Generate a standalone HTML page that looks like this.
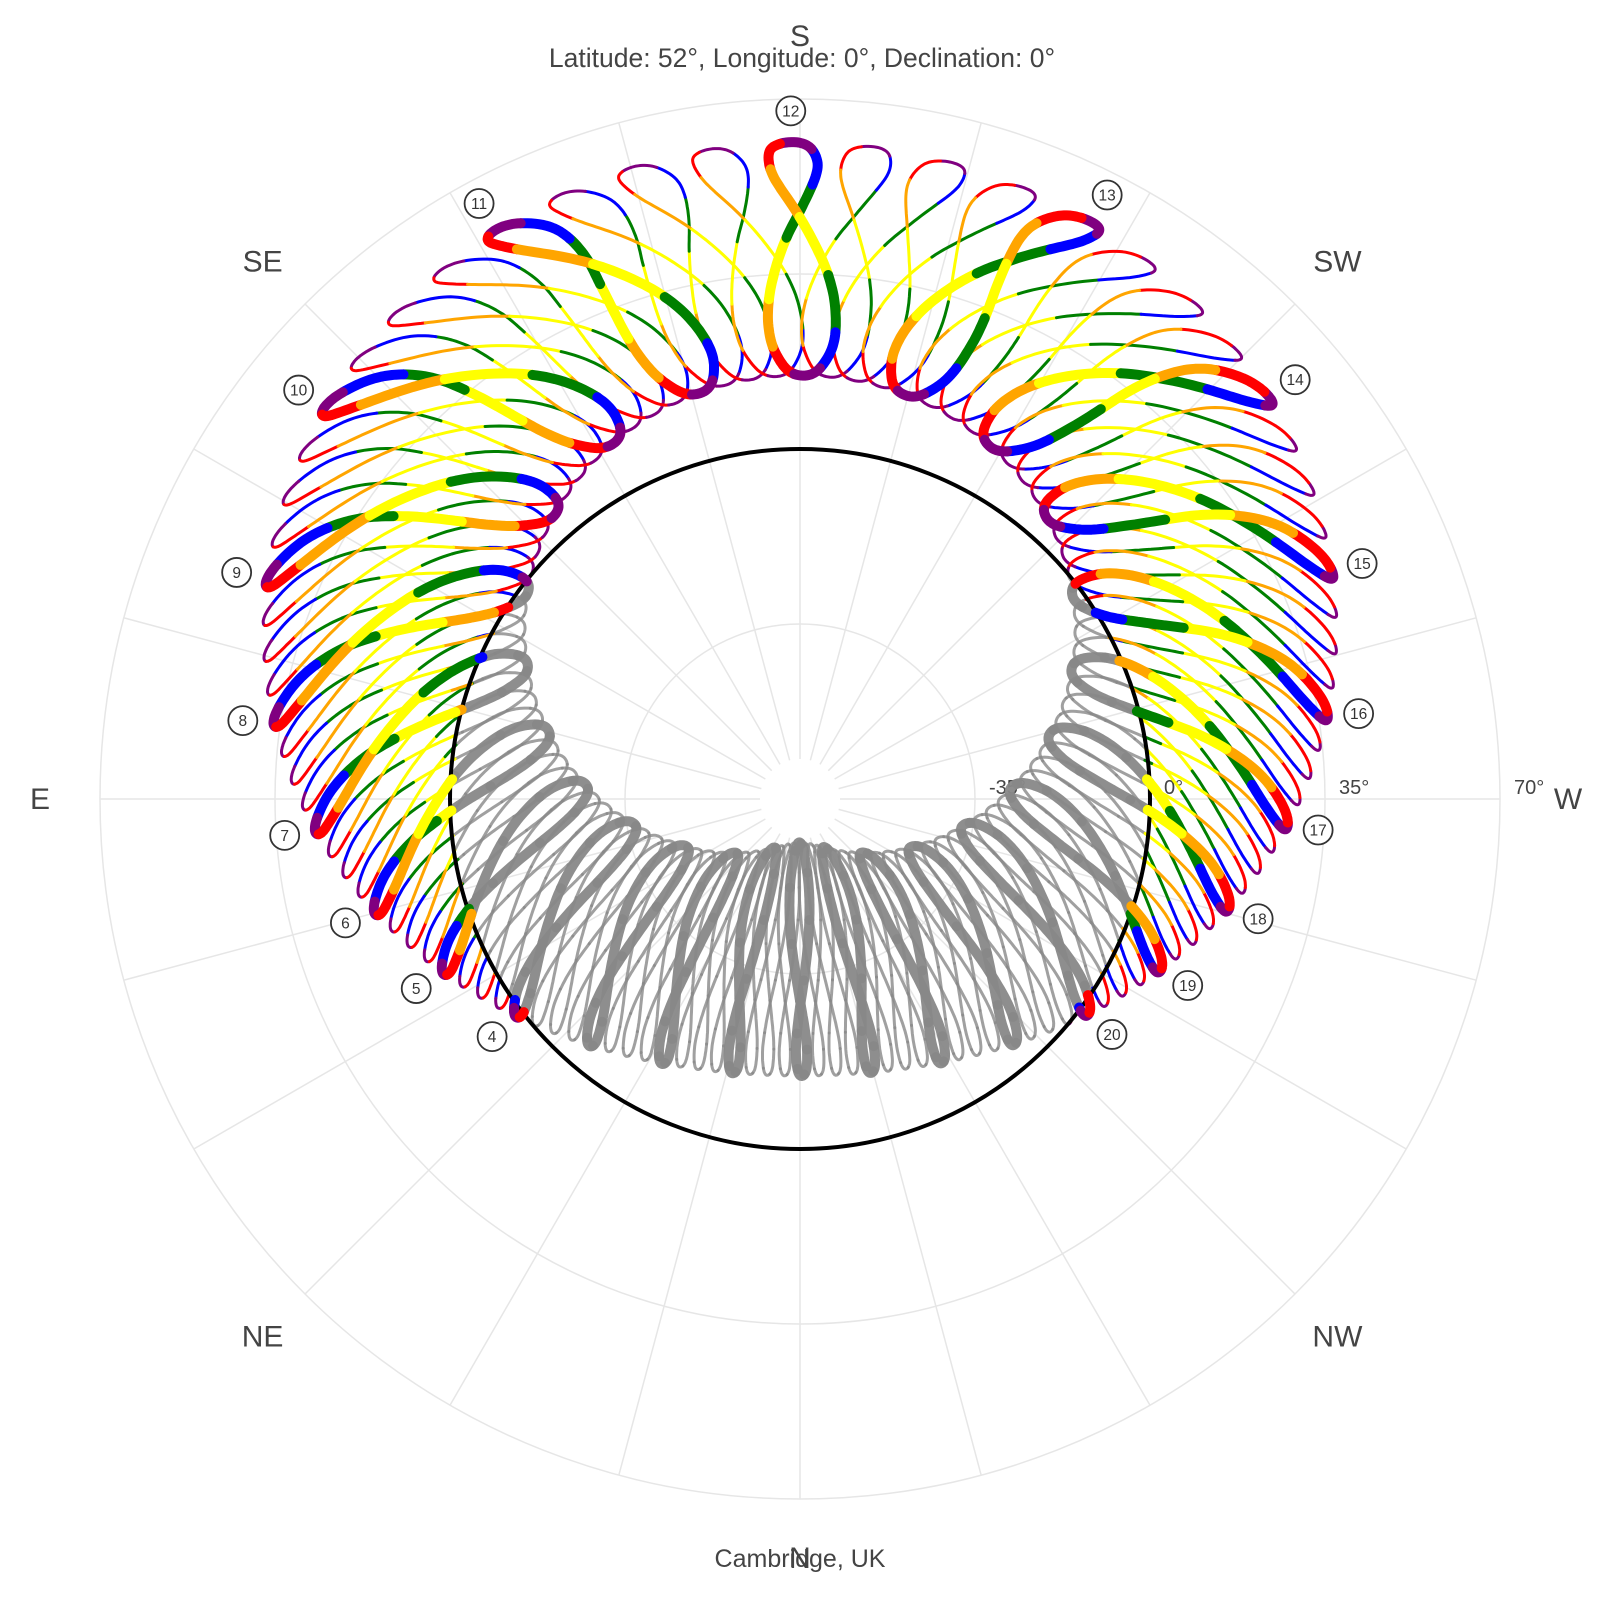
<!DOCTYPE html>
<html><head><meta charset="utf-8">
<style>
html,body{margin:0;padding:0;background:#fff;}
svg{display:block;font-family:"Liberation Sans",Arial,sans-serif;}
</style></head>
<body>
<svg id="chart" width="1600" height="1600" viewBox="0 0 1600 1600" xmlns="http://www.w3.org/2000/svg">
<g id="grid"></g>
<g id="loops"></g>
<g id="labels"></g>
<text x="802" y="67" font-size="26.5" fill="#444" text-anchor="middle">Latitude: 52°, Longitude: 0°, Declination: 0°</text>
<text x="800" y="1567" font-size="25" fill="#444" text-anchor="middle">Cambridge, UK</text>
</svg>
<script>
// ---- data: solar declination (deg) and equation of time (min) on the 1st and 15th of each month
const sampleDates = ['Jan 1','Jan 15','Feb 1','Feb 15','Mar 1','Mar 15','Apr 1','Apr 15','May 1','May 15','Jun 1','Jun 15','Jul 1','Jul 15','Aug 1','Aug 15','Sep 1','Sep 15','Oct 1','Oct 15','Nov 1','Nov 15','Dec 1','Dec 15'];
const declination = [-23.0,-21.2,-17.3,-12.7,-7.8,-2.4,4.3,9.6,14.9,18.8,22.0,23.3,23.1,21.6,18.1,14.2,8.4,3.0,-3.0,-8.5,-14.3,-18.3,-21.7,-23.2];
const equationOfTime = [-3.2,-9.1,-13.5,-14.2,-12.4,-9.0,-4.1,0.0,2.9,3.7,2.2,-0.3,-3.7,-5.9,-6.3,-4.6,-0.1,4.6,10.1,14.1,16.4,15.5,11.0,4.8];
const monthColors = ['#ff0000','#ffa500','#ffff00','#008000','#0000ff','#800080','#ff0000','#ffa500','#ffff00','#008000','#0000ff','#800080'];
const hourLabels = [4,5,6,7,8,9,10,11,12,13,14,15,16,17,18,19,20];
const radialTicks = [-35,0,35,70];
const compassLabels = ['S','SW','W','NW','N','NE','E','SE'];
const compassAz = [180,225,270,315,0,45,90,135];
const latitude = 52;
const labelDecl = 23.44, labelEot = -1.6;

const NS='http://www.w3.org/2000/svg';
const cx=800, cy=799, rMax=700, altMin=-70, altMax=70;
const rad=d=>d*Math.PI/180, deg=r=>r*180/Math.PI;
function rScale(alt){return (alt-altMin)/(altMax-altMin)*rMax;}
function xy(az,alt){const r=rScale(alt), t=rad(az-180);return [cx+r*Math.sin(t), cy-r*Math.cos(t)];}
function sunPos(t,dec,eot){
  const H=rad((t-12)*15+eot/4), d=rad(dec), p=rad(latitude);
  const alt=deg(Math.asin(Math.sin(p)*Math.sin(d)+Math.cos(p)*Math.cos(d)*Math.cos(H)));
  const az=deg(Math.atan2(Math.sin(H),Math.cos(H)*Math.sin(p)-Math.tan(d)*Math.cos(p)))+180;
  return {az,alt};
}
function cr(arr,u){const n=arr.length,i=Math.floor(u),f=u-i;
  const p0=arr[(i-1+n)%n],p1=arr[i%n],p2=arr[(i+1)%n],p3=arr[(i+2)%n];
  return 0.5*((2*p1)+(-p0+p2)*f+(2*p0-5*p1+4*p2-p3)*f*f+(-p0+3*p1-3*p2+p3)*f*f*f);}

const grid=document.getElementById('grid');
for(const a of [0.25,0.5,0.75,1]){
  const c=document.createElementNS(NS,'circle');
  
  
  c.setAttribute('cx',cx);c.setAttribute('cy',cy);c.setAttribute('r',rMax*a);
  c.setAttribute('fill','none');c.setAttribute('stroke','#e6e6e6');c.setAttribute('stroke-width','1.5');
  grid.appendChild(c);
}
for(let a=0;a<360;a+=15){
  const t=rad(a),l=document.createElementNS(NS,'line');
  
  
  l.setAttribute('x1',cx+40*Math.sin(t));l.setAttribute('y1',cy-40*Math.cos(t));
  l.setAttribute('x2',cx+rMax*Math.sin(t));l.setAttribute('y2',cy-rMax*Math.cos(t));
  l.setAttribute('stroke','#e6e6e6');l.setAttribute('stroke-width','1.5');
  grid.appendChild(l);
}
radialTicks.forEach(v=>{
  const tx=document.createElementNS(NS,'text');
  
  
  tx.setAttribute('x',cx+rScale(v)+14);tx.setAttribute('y',cy-5);
  tx.setAttribute('font-size','20');tx.setAttribute('fill','#444');
  tx.textContent=v+'°';grid.appendChild(tx);
});
compassLabels.forEach((s,i)=>{
  const t=rad(compassAz[i]-180), r=rMax+60;
  const tx=document.createElementNS(NS,'text');
  
  
  let x=cx+r*Math.sin(t), y=cy-r*Math.cos(t)+10;
  if(s==='S'){y=46;} if(s==='N'){y=1568;}
  if(s==='W'){x=1568;y=cy+10;} if(s==='E'){x=40;y=cy+10;}
  tx.setAttribute('x',x);tx.setAttribute('y',y);
  tx.setAttribute('font-size','30');tx.setAttribute('fill','#444');tx.setAttribute('text-anchor','middle');
  tx.textContent=s;grid.appendChild(tx);
});

const loops=document.getElementById('loops');
const grayG=document.createElementNS(NS,'g'), thinG=document.createElementNS(NS,'g'), thickG=document.createElementNS(NS,'g');






loops.appendChild(grayG);loops.appendChild(thinG);
const hz=document.createElementNS(NS,'circle');


hz.setAttribute('cx',cx);hz.setAttribute('cy',cy);hz.setAttribute('r',rScale(0));
hz.setAttribute('fill','none');hz.setAttribute('stroke','#000');hz.setAttribute('stroke-width','4');
loops.appendChild(hz);
loops.appendChild(thickG);

function addPath(g,pts,color,w,op){
  if(pts.length<2)return;
  const p=document.createElementNS(NS,'path');
  
  
  p.setAttribute('d','M'+pts.map(q=>q[0].toFixed(1)+','+q[1].toFixed(1)).join('L'));
  p.setAttribute('fill','none');p.setAttribute('stroke',color);p.setAttribute('stroke-width',w);
  p.setAttribute('stroke-linecap','round');p.setAttribute('stroke-linejoin','round');
  if(op<1)p.setAttribute('opacity',op);
  g.appendChild(p);
}
const SUB=8;
for(let q=0;q<96;q++){
  const t=q/4, thick=(q%4===0), w=thick?10:3;
  for(let m=0;m<12;m++){
    let run=[],runNeg=null;
    for(let s=0;s<=2*SUB;s++){
      const u=2*m+s/SUB;
      const sp=sunPos(t,cr(declination,u),cr(equationOfTime,u));
      const neg=sp.alt<0, pt=xy(sp.az,sp.alt);
      if(runNeg===null)runNeg=neg;
      if(neg!==runNeg){
        run.push(pt);
        if(runNeg)addPath(grayG,run,'#888',w,thick?0.95:0.8);
        else addPath(thick?thickG:thinG,run,monthColors[m],w,1);
        run=[run[run.length-2]||pt];runNeg=neg;
      }
      run.push(pt);
    }
    if(runNeg)addPath(grayG,run,'#888',w,thick?0.95:0.8);
    else addPath(thick?thickG:thinG,run,monthColors[m],w,1);
  }
}

const labels=document.getElementById('labels');
hourLabels.forEach(h=>{
  const sp=sunPos(h,labelDecl,labelEot), p=xy(sp.az,sp.alt+6.2);
  const c=document.createElementNS(NS,'circle');
  
  
  c.setAttribute('cx',p[0]);c.setAttribute('cy',p[1]);c.setAttribute('r',14.5);
  c.setAttribute('fill','#fff');c.setAttribute('stroke','#333');c.setAttribute('stroke-width','1.8');
  labels.appendChild(c);
  const tx=document.createElementNS(NS,'text');
  
  
  tx.setAttribute('x',p[0]);tx.setAttribute('y',p[1]+5.5);
  tx.setAttribute('font-size','15.5');tx.setAttribute('fill','#333');tx.setAttribute('text-anchor','middle');
  tx.textContent=h;labels.appendChild(tx);
});
</script>
</body></html>
